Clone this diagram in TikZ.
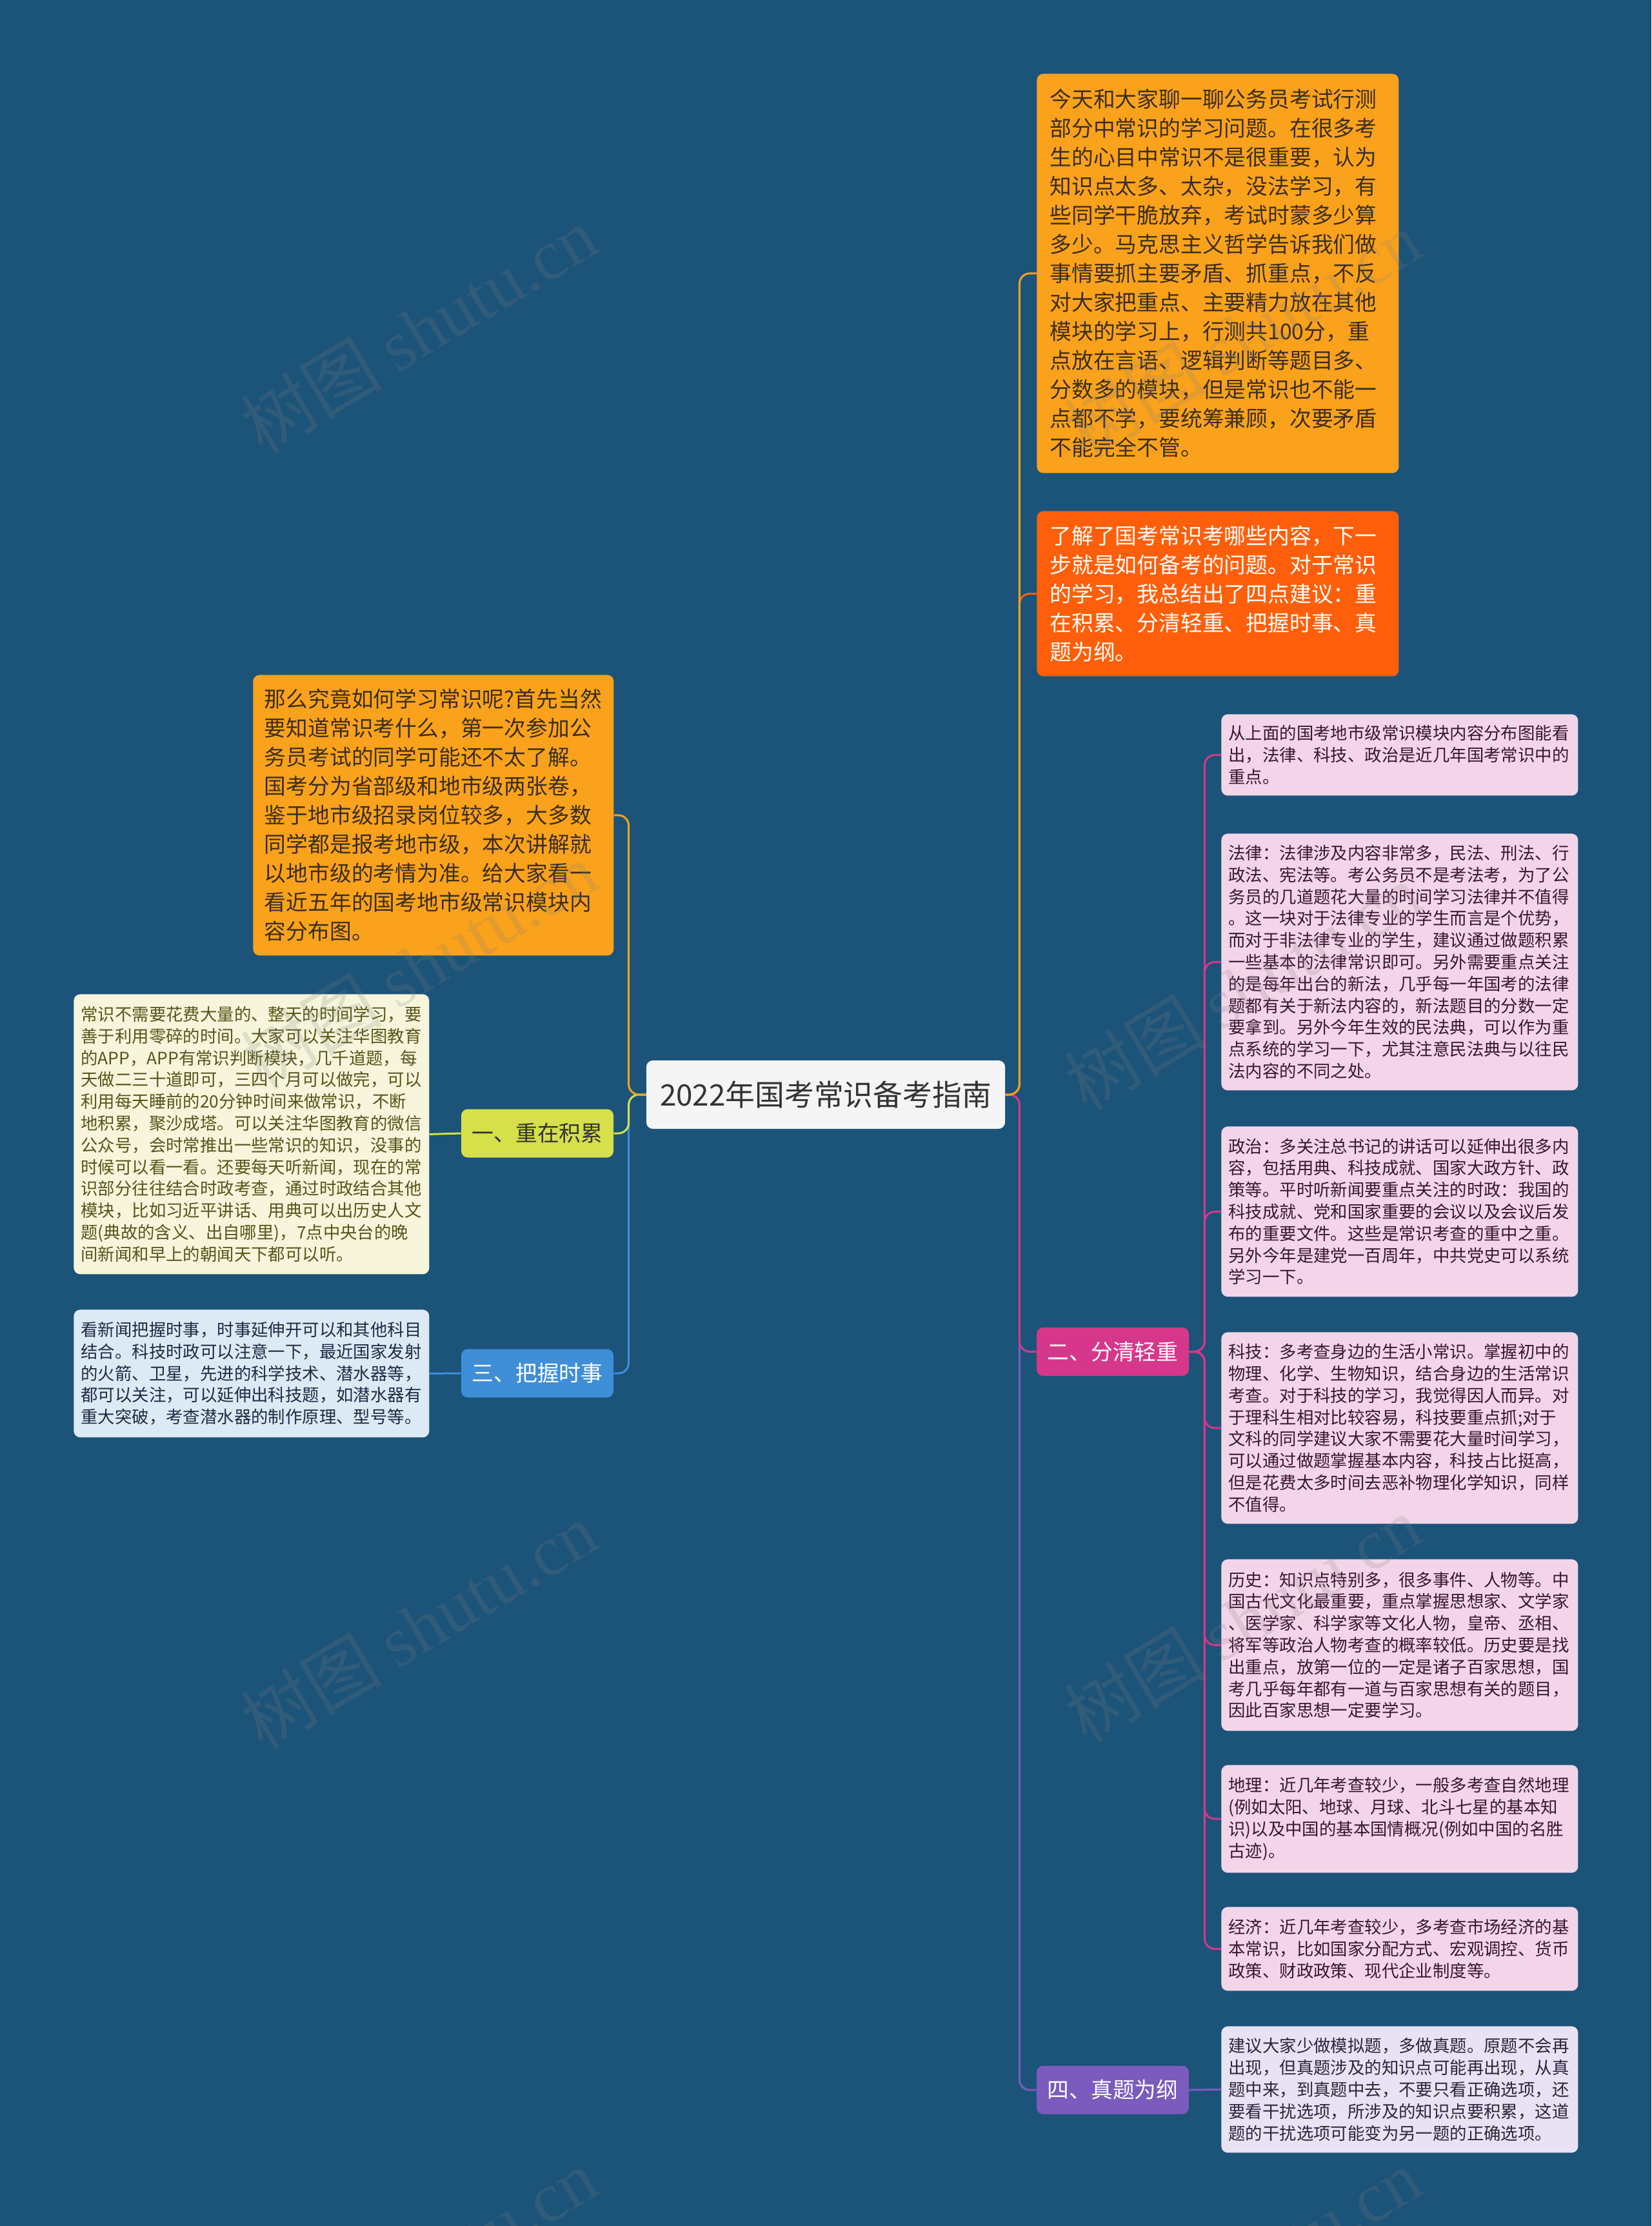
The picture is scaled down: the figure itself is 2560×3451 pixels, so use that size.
\documentclass[tikz,border=0pt]{standalone}
\usepackage{fontspec}
\setmainfont{Noto Sans CJK SC}
\newfontfamily\wmlatin{Liberation Serif}
\definecolor{cBg}{HTML}{1C5378}
\definecolor{cOrange}{HTML}{FAA21B}
\definecolor{cRed}{HTML}{FF5F0A}
\definecolor{cLime}{HTML}{D5E04A}
\definecolor{cBlue}{HTML}{3F8ED8}
\definecolor{cPink}{HTML}{D6378A}
\definecolor{cPurple}{HTML}{7B5BBE}
\definecolor{cYelLight}{HTML}{F7F6DC}
\definecolor{cBlueLight}{HTML}{DCEAF6}
\definecolor{cPinkLight}{HTML}{F3D5E9}
\definecolor{cLav}{HTML}{E8E2F2}
\definecolor{cDark}{HTML}{3B2E1E}
\definecolor{cOlive}{HTML}{55551A}
\definecolor{cNavy}{HTML}{1E2B45}
\definecolor{cPinkText}{HTML}{3B1530}
\definecolor{cLavText}{HTML}{2B2540}
\tikzset{
  box/.style={rounded corners=5pt, anchor=north west, align=left, inner ysep=0pt},
  bigbox/.style={box, font=\fontsize{16.9}{22.5}\selectfont, inner xsep=10pt},
  smallbox/.style={box, font=\fontsize{13.2}{16.9}\selectfont, inner xsep=5.5pt},
  branch/.style={rounded corners=5pt, anchor=center, minimum width=118pt, minimum height=37.5pt, inner sep=0pt, font=\fontsize{16.9}{20}\selectfont},
  conn/.style={line width=1.5pt, rounded corners=8pt},
  wm/.style={rotate=31, text=gray, opacity=0.2, font=\fontsize{55}{60}\selectfont}
}
\begin{document}
\begin{tikzpicture}[x=0.5pt, y=-0.5pt]
\useasboundingbox (0,0) rectangle (2560,3451);
\fill[cBg] (0,0) rectangle (2560,3451);

% center
\node[rounded corners=5pt, fill=white!96!black, text=black!80, minimum width=278pt, minimum height=53pt, inner sep=0pt, font=\fontsize{22.9}{25}\selectfont] (ctr) at (1280,1697) {2022年国考常识备考指南};

% right top boxes
\node[bigbox, fill=cOrange, text=cDark, text width=260.5pt, minimum height=309.5pt] (top) at (1607,114) {今天和大家聊一聊公务员考试行测\\部分中常识的学习问题。在很多考\\生的心目中常识不是很重要，认为\\知识点太多、太杂，没法学习，有\\些同学干脆放弃，考试时蒙多少算\\多少。马克思主义哲学告诉我们做\\事情要抓主要矛盾、抓重点，不反\\对大家把重点、主要精力放在其他\\模块的学习上，行测共100分，重\\点放在言语、逻辑判断等题目多、\\分数多的模块，但是常识也不能一\\点都不学，要统筹兼顾，次要矛盾\\不能完全不管。};

\node[bigbox, fill=cRed, text=white, text width=260.5pt, minimum height=128pt] (red) at (1607,792) {了解了国考常识考哪些内容，下一\\步就是如何备考的问题。对于常识\\的学习，我总结出了四点建议：重\\在积累、分清轻重、把握时事、真\\题为纲。};

% left orange
\node[bigbox, fill=cOrange, text=cDark, inner xsep=8.75pt, text width=262pt, minimum height=217.5pt] (lo) at (392,1046) {那么究竟如何学习常识呢?首先当然\\要知道常识考什么，第一次参加公\\务员考试的同学可能还不太了解。\\国考分为省部级和地市级两张卷，\\鉴于地市级招录岗位较多，大多数\\同学都是报考地市级，本次讲解就\\以地市级的考情为准。给大家看一\\看近五年的国考地市级常识模块内\\容分布图。};

% branches
\node[branch, fill=cLime, text=black!80] (b1) at (833,1757) {一、重在积累};
\node[branch, fill=cBlue, text=white] (b3) at (833,2129) {三、把握时事};
\node[branch, fill=cPink, text=white] (b2) at (1725,2095.5) {二、分清轻重};
\node[branch, fill=cPurple, text=white] (b4) at (1725,3240) {四、真题为纲};

% left small boxes
\node[smallbox, fill=cYelLight, text=cOlive, text width=264.5pt, minimum height=217pt] (yel) at (114,1541) {常识不需要花费大量的、整天的时间学习，要\\善于利用零碎的时间。大家可以关注华图教育\\的APP，APP有常识判断模块，几千道题，每\\天做二三十道即可，三四个月可以做完，可以\\利用每天睡前的20分钟时间来做常识，不断\\地积累，聚沙成塔。可以关注华图教育的微信\\公众号，会时常推出一些常识的知识，没事的\\时候可以看一看。还要每天听新闻，现在的常\\识部分往往结合时政考查，通过时政结合其他\\模块，比如习近平讲话、用典可以出历史人文\\题(典故的含义、出自哪里)，7点中央台的晚\\间新闻和早上的朝闻天下都可以听。};

\node[smallbox, fill=cBlueLight, text=cNavy, text width=264.5pt, minimum height=99pt] (blu) at (114,2030) {看新闻把握时事，时事延伸开可以和其他科目\\结合。科技时政可以注意一下，最近国家发射\\的火箭、卫星，先进的科学技术、潜水器等，\\都可以关注，可以延伸出科技题，如潜水器有\\重大突破，考查潜水器的制作原理、型号等。};

% right pink boxes
\node[smallbox, fill=cPinkLight, text=cPinkText, text width=265.5pt, minimum height=63pt] (p1) at (1893,1107) {从上面的国考地市级常识模块内容分布图能看\\出，法律、科技、政治是近几年国考常识中的\\重点。};

\node[smallbox, fill=cPinkLight, text=cPinkText, text width=265.5pt, minimum height=199pt] (p2) at (1893,1292) {法律：法律涉及内容非常多，民法、刑法、行\\政法、宪法等。考公务员不是考法考，为了公\\务员的几道题花大量的时间学习法律并不值得\\。这一块对于法律专业的学生而言是个优势，\\而对于非法律专业的学生，建议通过做题积累\\一些基本的法律常识即可。另外需要重点关注\\的是每年出台的新法，几乎每一年国考的法律\\题都有关于新法内容的，新法题目的分数一定\\要拿到。另外今年生效的民法典，可以作为重\\点系统的学习一下，尤其注意民法典与以往民\\法内容的不同之处。};

\node[smallbox, fill=cPinkLight, text=cPinkText, text width=265.5pt, minimum height=132pt] (p3) at (1893,1746) {政治：多关注总书记的讲话可以延伸出很多内\\容，包括用典、科技成就、国家大政方针、政\\策等。平时听新闻要重点关注的时政：我国的\\科技成就、党和国家重要的会议以及会议后发\\布的重要文件。这些是常识考查的重中之重。\\另外今年是建党一百周年，中共党史可以系统\\学习一下。};

\node[smallbox, fill=cPinkLight, text=cPinkText, text width=265.5pt, minimum height=148.5pt] (p4) at (1893,2065) {科技：多考查身边的生活小常识。掌握初中的\\物理、化学、生物知识，结合身边的生活常识\\考查。对于科技的学习，我觉得因人而异。对\\于理科生相对比较容易，科技要重点抓;对于\\文科的同学建议大家不需要花大量时间学习，\\可以通过做题掌握基本内容，科技占比挺高，\\但是花费太多时间去恶补物理化学知识，同样\\不值得。};

\node[smallbox, fill=cPinkLight, text=cPinkText, text width=265.5pt, minimum height=133pt] (p5) at (1893,2417) {历史：知识点特别多，很多事件、人物等。中\\国古代文化最重要，重点掌握思想家、文学家\\、医学家、科学家等文化人物，皇帝、丞相、\\将军等政治人物考查的概率较低。历史要是找\\出重点，放第一位的一定是诸子百家思想，国\\考几乎每年都有一道与百家思想有关的题目，\\因此百家思想一定要学习。};

\node[smallbox, fill=cPinkLight, text=cPinkText, text width=265.5pt, minimum height=83.5pt] (p6) at (1893,2736) {地理：近几年考查较少，一般多考查自然地理\\(例如太阳、地球、月球、北斗七星的基本知\\识)以及中国的基本国情概况(例如中国的名胜\\古迹)。};

\node[smallbox, fill=cPinkLight, text=cPinkText, text width=265.5pt, minimum height=65pt] (p7) at (1893,2956) {经济：近几年考查较少，多考查市场经济的基\\本常识，比如国家分配方式、宏观调控、货币\\政策、财政政策、现代企业制度等。};

\node[smallbox, fill=cLav, text=cLavText, text width=265.5pt, minimum height=98pt] (last) at (1893,3141) {建议大家少做模拟题，多做真题。原题不会再\\出现，但真题涉及的知识点可能再出现，从真\\题中来，到真题中去，不要只看正确选项，还\\要看干扰选项，所涉及的知识点要积累，这道\\题的干扰选项可能变为另一题的正确选项。};

% connectors right
\draw[conn, cPurple] (ctr.east) -- ++(22,0) |- (b4.west);
\draw[conn, cPink] (ctr.east) -- ++(22,0) |- (b2.west);
\draw[conn, cRed] (ctr.east) -- ++(22,0) |- (red.west);
\draw[conn, cOrange] (ctr.east) -- ++(22,0) |- (top.west);
% connectors left
\draw[conn, cBlue] (ctr.west) -- ++(-27,0) |- (b3.east);
\draw[conn, cLime] (ctr.west) -- ++(-27,0) |- (b1.east);
\draw[conn, cOrange] (ctr.west) -- ++(-27,0) |- (lo.east);
% sub connectors
\draw[conn, cLime] (b1.west) -- (yel.east);
\draw[conn, cBlue] (b3.west) -- (blu.east);
\draw[conn, cPurple] (b4.east) -- (last.west);
\foreach \t in {p1,p2,p3,p4,p5,p6,p7}{
  \draw[conn, cPink] (b2.east) -- ++(24,0) |- (\t.west);
}

% watermarks
\begin{scope}
\clip (0,0) rectangle (2560,3451);
\foreach \px/\py in {649/511, 1926/518, 649/1497, 1926/1530, 649/2520, 1926/2510, 649/3522, 1926/3522}{
  \node[wm] at (\px,\py) {树图 {\wmlatin shutu.cn}};
}
\end{scope}
\end{tikzpicture}
\end{document}
